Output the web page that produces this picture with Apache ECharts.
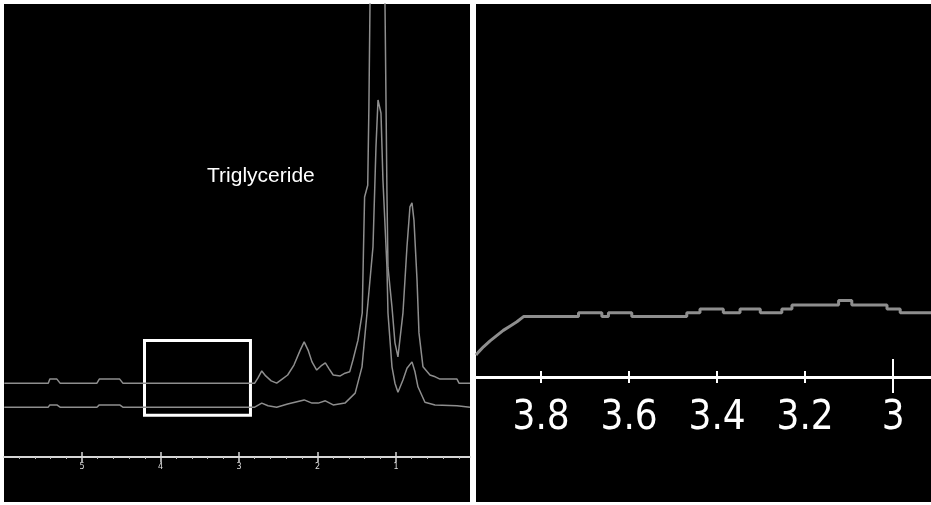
<!DOCTYPE html>
<html>
<head>
<meta charset="utf-8">
<script src="https://cdn.jsdelivr.net/npm/echarts@6/dist/echarts.min.js"></script>
<style>
html,body{margin:0;padding:0;background:#fff;}
#chart{width:931px;height:505px;}
</style>
</head>
<body>
<div id="chart"></div>
<script>
// ---- Data (chemical shift in ppm, intensity in arbitrary units) ----
const fullTickLabels = [5, 4, 3, 2, 1];
const fullMinorTicks = [5.8,5.6,5.4,5.2,4.8,4.6,4.4,4.2,3.8,3.6,3.4,3.2,2.8,2.6,2.4,2.2,1.8,1.6,1.4,1.2,0.8,0.6,0.4,0.2];
const zoomTickLabels = [3.8, 3.6, 3.4, 3.2, 3];
const zoomMinorTicks = [3.8, 3.6, 3.4, 3.2];
const zoomMajorTick = [3];

const upperPpm = [5.99,5.43,5.41,5.32,5.28,4.81,4.78,4.52,4.48,2.80,2.76,2.71,2.66,2.59,2.52,2.45,2.38,2.30,2.22,2.17,2.12,2.07,2.01,1.955,1.90,1.85,1.80,1.71,1.65,1.59,1.548,1.484,1.43,1.415,1.40,1.36,1.345,1.331,1.24,1.14,1.115,1.102,1.051,1.013,0.975,0.911,0.86,0.822,0.796,0.771,0.732,0.707,0.656,0.567,0.50,0.44,0.223,0.197,0.057];
const upperIntensity = [16.3,16.3,17.2,17.2,16.3,16.3,17.2,17.2,16.3,16.3,17.4,19.0,17.9,16.8,16.3,17.2,18.1,20.3,23.6,25.4,23.6,21.0,19.2,20.1,20.8,19.4,18.1,17.9,18.5,18.8,21.4,25.8,31.8,45.0,57.4,60.0,77.3,100,160,100,58.3,41.9,33.1,25.2,22.1,31.8,46.4,55.2,56.1,52.3,39.1,27.4,19.9,18.1,17.7,17.2,17.2,16.3,16.3];

const lowerPpm = [5.99,5.43,5.41,5.32,5.28,4.81,4.78,4.52,4.48,2.80,2.71,2.63,2.52,2.38,2.17,2.07,1.99,1.90,1.80,1.65,1.52,1.433,1.369,1.293,1.255,1.229,1.191,1.166,1.115,1.102,1.051,1.013,0.975,0.911,0.86,0.796,0.758,0.72,0.631,0.503,0.223,0.057];
const lowerIntensity = [11.0,11.0,11.5,11.5,11.0,11.0,11.5,11.5,11.0,11.0,11.9,11.3,11.0,11.7,12.6,11.9,11.9,12.4,11.5,11.9,14.1,19.9,31.8,46.4,68.4,78.8,75.9,61.1,41.9,31.8,19.9,16.3,14.3,17.0,19.6,21.0,18.8,15.5,12.1,11.5,11.3,11.0];

const zoomPpm = [3.948,3.943,3.931,3.916,3.901,3.886,3.870,3.855,3.840,3.715,3.715,3.662,3.662,3.647,3.647,3.594,3.594,3.469,3.469,3.439,3.439,3.386,3.386,3.348,3.348,3.302,3.302,3.253,3.253,3.230,3.230,3.124,3.124,3.094,3.094,3.014,3.014,2.984,2.984,2.914];
const zoomIntensity = [5.9,6.6,8.1,9.7,11.1,12.5,13.7,14.8,16.2,16.2,17.2,17.2,16.2,16.2,17.2,17.2,16.2,16.2,17.2,17.2,18.2,18.2,17.2,17.2,18.2,18.2,17.2,17.2,18.2,18.2,19.3,19.3,20.5,20.5,19.3,19.3,18.2,18.2,17.2,17.2];

// highlighted region on the full spectrum: [ppm start, ppm end], [intensity top, bottom]
const boxPpm = [4.204, 2.854];
const boxIntensity = [25.7, 9.2];
const annotation = 'Triglyceride';

const zip = (a, b) => a.map((v, i) => [v, b[i]]);

const chart = echarts.init(document.getElementById('chart'), null, {renderer: 'canvas'});

const FULL_MIN = 0.057, FULL_MAX = 5.994;
const ZOOM_MIN = 2.914, ZOOM_MAX = 3.948;
const axisGray = '#d6d6d6';

function tickAxis(grid, min, max, values, len, inside, color, width) {
  return {
    type: 'value', gridIndex: grid, position: 'bottom', inverse: true, min: min, max: max,
    axisLine: {show: false}, splitLine: {show: false},
    axisLabel: {show: false},
    axisTick: {show: true, inside: inside, length: len, customValues: values,
      lineStyle: {color: color, width: width}}
  };
}

const option = {
  backgroundColor: '#ffffff',
  animation: false,
  graphic: [
    {type: 'rect', z: -100, silent: true, shape: {x: 4, y: 4, width: 466, height: 498}, style: {fill: '#000'}},
    {type: 'rect', z: -100, silent: true, shape: {x: 476, y: 4, width: 455, height: 498}, style: {fill: '#000'}}
  ],
  title: {
    text: annotation, left: 207, top: 166, padding: 0,
    textStyle: {color: '#ffffff', fontSize: 21, fontWeight: 'normal', fontFamily: 'Liberation Sans, Arial, sans-serif'}
  },
  grid: [
    {left: 4, top: 4, width: 466, height: 453, containLabel: false, outerBoundsMode: 'none'},
    {left: 476, top: 4, width: 455, height: 373, containLabel: false, outerBoundsMode: 'none'}
  ],
  xAxis: [
    {
      type: 'value', gridIndex: 0, position: 'bottom', inverse: true, min: FULL_MIN, max: FULL_MAX,
      axisLine: {show: true, lineStyle: {color: axisGray, width: 2}},
      splitLine: {show: false},
      axisTick: {show: true, length: 5, customValues: fullTickLabels, lineStyle: {color: axisGray, width: 1.5}},
      axisLabel: {show: true, customValues: fullTickLabels, color: '#dddddd', fontSize: 8,
        fontFamily: 'DejaVu Sans, sans-serif', margin: 6}
    },
    tickAxis(0, FULL_MIN, FULL_MAX, fullTickLabels, 5, true, axisGray, 1.5),
    tickAxis(0, FULL_MIN, FULL_MAX, fullMinorTicks, 2, false, '#bbbbbb', 1),
    {
      type: 'value', gridIndex: 1, position: 'bottom', inverse: true, min: ZOOM_MIN, max: ZOOM_MAX,
      axisLine: {show: true, lineStyle: {color: '#ffffff', width: 3}},
      splitLine: {show: false},
      axisTick: {show: true, length: 6, customValues: zoomMinorTicks, lineStyle: {color: '#ffffff', width: 2}},
      axisLabel: {show: true, customValues: zoomTickLabels, color: '#ffffff', fontSize: 40,
        fontFamily: "'Liberation Sans Narrow', 'DejaVu Sans Condensed', 'Liberation Sans', sans-serif", margin: 22}
    },
    tickAxis(1, ZOOM_MIN, ZOOM_MAX, zoomMinorTicks, 6, true, '#ffffff', 2),
    tickAxis(1, ZOOM_MIN, ZOOM_MAX, zoomMajorTick, 16, false, '#ffffff', 2),
    tickAxis(1, ZOOM_MIN, ZOOM_MAX, zoomMajorTick, 18, true, '#ffffff', 2)
  ],
  yAxis: [
    {type: 'value', gridIndex: 0, min: 0, max: 100, show: false},
    {type: 'value', gridIndex: 1, min: 0, max: 100, show: false}
  ],
  series: [
    {
      name: 'upper', type: 'line', xAxisIndex: 0, yAxisIndex: 0, data: zip(upperPpm, upperIntensity),
      showSymbol: false, clip: true, lineStyle: {color: '#8e8e8e', width: 1.5},
      markArea: {
        silent: true,
        itemStyle: {color: 'rgba(0,0,0,0)', borderColor: '#ffffff', borderWidth: 3},
        data: [[{xAxis: boxPpm[0], yAxis: boxIntensity[0]}, {xAxis: boxPpm[1], yAxis: boxIntensity[1]}]]
      }
    },
    {
      name: 'lower', type: 'line', xAxisIndex: 0, yAxisIndex: 0, data: zip(lowerPpm, lowerIntensity),
      showSymbol: false, clip: true, lineStyle: {color: '#8e8e8e', width: 1.5}
    },
    {
      name: 'zoom', type: 'line', xAxisIndex: 3, yAxisIndex: 1, data: zip(zoomPpm, zoomIntensity),
      showSymbol: false, clip: true, lineStyle: {color: '#8e8e8e', width: 3}
    }
  ]
};
chart.setOption(option);
</script>
</body>
</html>
